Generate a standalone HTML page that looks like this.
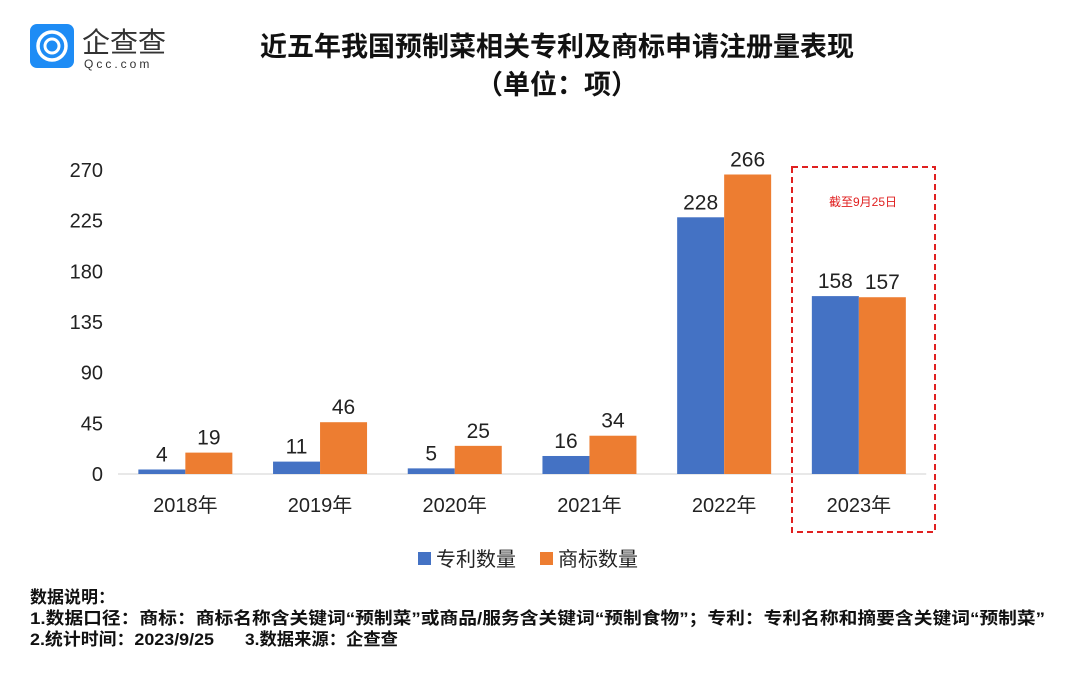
<!DOCTYPE html>
<html><head><meta charset="utf-8"><style>
body{margin:0;background:#fff;}
svg{display:block;font-family:"Liberation Sans","Noto Sans CJK SC",sans-serif;}
</style></head><body>
<svg id="c" width="1080" height="674" viewBox="0 0 1080 674">
<g>
<rect x="30" y="24" width="44" height="44" rx="7" fill="#1e8cf5"/>
<circle cx="52" cy="46" r="14" fill="none" stroke="#fff" stroke-width="3.5"/>
<circle cx="52" cy="46" r="7" fill="none" stroke="#fff" stroke-width="3"/>
<text x="82" y="52" font-size="28" fill="#333">企查查</text>
<text x="84" y="68" font-size="12" fill="#333" letter-spacing="3">Qcc.com</text>
</g>
<text x="557" y="56" font-size="27" font-weight="bold" text-anchor="middle" fill="#111">近五年我国预制菜相关专利及商标申请注册量表现</text>
<text x="557" y="94" font-size="27" font-weight="bold" text-anchor="middle" fill="#111">（单位：项）</text>
<g id="plot"></g>
<rect x="792" y="167" width="143" height="365" fill="none" stroke="#e02020" stroke-width="2" stroke-dasharray="6,4"/>
<text x="863" y="206" font-size="12" fill="#e02020" text-anchor="middle">截至9月25日</text>
<g>
<rect x="418" y="552" width="13" height="13" fill="#4472C4"/>
<text x="436" y="566" font-size="20" fill="#222">专利数量</text>
<rect x="540" y="552" width="13" height="13" fill="#ED7D31"/>
<text x="558" y="566" font-size="20" fill="#222">商标数量</text>
</g>
<g font-size="17" font-weight="bold" fill="#111">
<text x="30" y="603">数据说明：</text>
<text x="30" y="624" textLength="1015" lengthAdjust="spacingAndGlyphs">1.数据口径：商标：商标名称含关键词“预制菜”或商品/服务含关键词“预制食物”；专利：专利名称和摘要含关键词“预制菜”</text>
<text x="30" y="645" textLength="184" lengthAdjust="spacingAndGlyphs">2.统计时间：2023/9/25</text>
<text x="245" y="645" textLength="153" lengthAdjust="spacingAndGlyphs">3.数据来源：企查查</text>
</g>
</svg>
<script>
const categories=["2018年","2019年","2020年","2021年","2022年","2023年"];
const patents=[4,11,5,16,228,158];
const trademarks=[19,46,25,34,266,157];
const ticks=[0,45,90,135,180,225,270];
const NS="http://www.w3.org/2000/svg";
const g=document.getElementById('plot');
const y0=474,yTop=170,maxV=270,x0=118,step=134.7,bw=47;
const yS=v=>y0-(v/maxV)*(y0-yTop);
const xC=i=>x0+step*(i+0.5);
function mk(t,a,txt){const e=document.createElementNS(NS,t);for(const k in a)e.setAttribute(k,a[k]);if(txt!=null)e.textContent=txt;g.appendChild(e);return e;}
ticks.forEach(t=>{const e=mk('text',{x:103,y:yS(t)+7,'font-size':20,'text-anchor':'end',fill:'#222'},t);

});
const ax=mk('line',{x1:x0,x2:x0+step*6,y1:y0,y2:y0,stroke:'#d0d0d0'});


categories.forEach((c,i)=>{
const cx=xC(i);
[[patents[i],'#4472C4',cx-bw,'patent'],[trademarks[i],'#ED7D31',cx,'trademark']].forEach(([v,col,x,n])=>{
const r=mk('rect',{x:x,y:yS(v),width:bw,height:y0-yS(v),fill:col});


const l=mk('text',{x:x+bw/2,y:yS(v)-8,'font-size':21,'text-anchor':'middle',fill:'#222'},v);


});
const t=mk('text',{x:cx,y:512,'font-size':20,'text-anchor':'middle',fill:'#222'},c);


});
</script>
</body></html>
